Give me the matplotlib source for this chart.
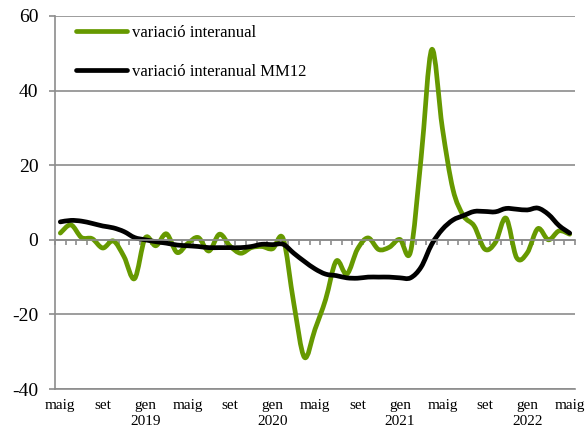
import numpy as np
import matplotlib.pyplot as plt
from matplotlib.path import Path
from matplotlib.patches import PathPatch
from matplotlib.lines import Line2D

plt.rcParams['font.family'] = ['Liberation Serif', 'DejaVu Serif']
plt.rcParams['axes.unicode_minus'] = False

# monthly data, maig 2018 .. maig 2022
variacio = [1.8, 4.0, 0.6, 0.3, -2.2, -0.3, -4.5, -10.4,
            0.5, -1.6, 1.6, -3.4, -1.0, 0.6, -3.0, 1.5, -1.7, -3.6, -2.1, -1.8,
            -2.4, 0.3, -17.0, -31.5, -24.0, -16.0, -5.7, -9.2, -2.5, 0.5, -2.6, -2.0,
            0.1, -3.2, 22.0, 51.0, 30.0, 13.5, 6.4, 3.7, -2.5, -0.7, 5.8, -4.8,
            -3.5, 3.0, 0.0, 2.4, 1.5]
mm12 = [4.8, 5.2, 5.0, 4.4, 3.7, 3.2, 2.2, 0.6,
        0.0, -0.5, -0.9, -1.4, -1.6, -1.8, -2.1, -2.1, -2.1, -2.1, -1.8, -1.2,
        -1.3, -1.2, -3.6, -5.8, -7.8, -9.2, -9.6, -10.2, -10.3, -10.0, -10.0, -10.0,
        -10.2, -10.2, -7.3, -1.2, 2.8, 5.3, 6.5, 7.6, 7.6, 7.5, 8.4, 8.2,
        8.0, 8.5, 6.8, 3.8, 1.8]
tick_labels = ['maig', 'set', 'gen\n2019', 'maig', 'set', 'gen\n2020', 'maig',
               'set', 'gen\n2021', 'maig', 'set', 'gen\n2022', 'maig']
noms = ['variació interanual', 'variació interanual MM12']
colors = ['#669900', '#000000']


def smooth_path(y):
    # bezier curve through the points (like excel smoothed lines)
    pts = np.column_stack([np.arange(len(y)), y]).astype(float)
    n = len(pts)
    verts = [pts[0]]
    codes = [Path.MOVETO]
    for i in range(n - 1):
        p0 = pts[max(i - 1, 0)]
        p1 = pts[i]
        p2 = pts[i + 1]
        p3 = pts[min(i + 2, n - 1)]
        verts += [p1 + (p2 - p0) / 6, p2 - (p3 - p1) / 6, p2]
        codes += [Path.CURVE4] * 3
    return Path(verts, codes)


fig = plt.figure(figsize=(5.86, 4.37), dpi=100)
ax = fig.add_axes([55 / 586, 48 / 437, 520 / 586, 373 / 437])

n = len(variacio)
ax.set_xlim(-0.5, n - 0.5)
ax.set_ylim(-40, 60)
ax.set_yticks(np.arange(-40, 61, 20))
ax.yaxis.grid(True, color='#8c8c8c', lw=1.2)
ax.set_axisbelow(True)

for s in ['top', 'right']:
    ax.spines[s].set_visible(False)
ax.spines['left'].set_color('#8c8c8c')
ax.spines['left'].set_linewidth(1.2)
ax.spines['bottom'].set_position(('data', 0))
ax.spines['bottom'].set_color('#8c8c8c')
ax.spines['bottom'].set_linewidth(1.2)
ax.set_xticks(np.arange(-0.5, n, 1))
ax.tick_params(axis='x', length=3.5, width=1.2, color='#8c8c8c', labelbottom=False)
ax.tick_params(axis='y', length=4, width=1.2, color='#8c8c8c', pad=8, labelsize=14)

sec = ax.secondary_xaxis('bottom')
sec.set_xticks(np.arange(0, n, 4))
sec.set_xticklabels(tick_labels, fontsize=11, linespacing=1.3)
sec.tick_params(length=0, pad=7)
sec.spines['bottom'].set_color('#8c8c8c')
sec.spines['bottom'].set_linewidth(1.2)

for vals, c in zip([variacio, mm12], colors):
    ax.add_patch(PathPatch(smooth_path(vals), fill=False, edgecolor=c, lw=3.4,
                           capstyle='round', joinstyle='round'))

handles = [Line2D([], [], color=c, lw=3.4, solid_capstyle='round') for c in colors]
ax.legend(handles, noms, loc='upper left', bbox_to_anchor=(0.04, 0.975),
          frameon=False, fontsize=12, handlelength=3.1, handletextpad=0.25,
          labelspacing=1.35, borderpad=0, borderaxespad=0)

fig.savefig('out.png', dpi=100)
